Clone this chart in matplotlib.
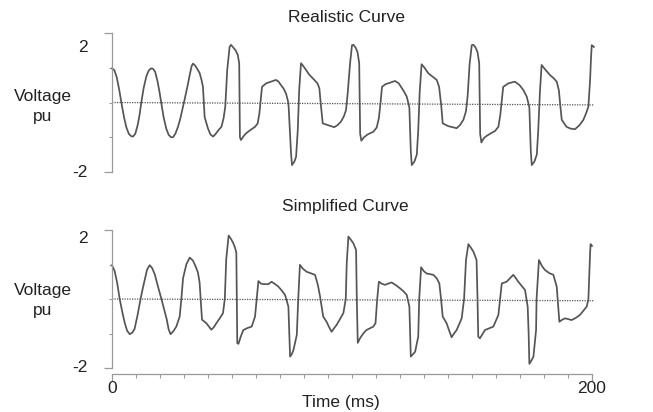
import matplotlib
matplotlib.use("Agg")
import matplotlib.pyplot as plt
import numpy as np

plt.rcParams["font.family"] = ["Liberation Sans", "DejaVu Sans"]

# realistic curve (t in ms, v in pu)
real_t = [0, 1, 2, 3, 3.9, 5, 6, 7, 8, 8.75,
          9.7, 10.7, 11.5, 12.2, 13.2, 14.3, 15.3, 16.2, 17.1, 18,
          19, 19.8, 20.5, 21.5, 22.6, 23.6, 24.6, 25.4, 26.4, 27.5,
          28.5, 29.5, 30.3, 31.4, 32.4, 33.2, 33.75, 34.8, 35.8, 36.5,
          37.3, 37.9, 38.6, 40, 41, 42.1, 43, 44.3, 45.6, 46.5,
          47.2, 48, 49, 49.6, 50.3, 51.5, 52.4, 53, 53.3, 53.75,
          54.7, 55.8, 57.9, 59.6, 60.7, 61.4, 62, 62.5, 64.2, 66.25,
          68.3, 69.4, 70.4, 71.5, 72.5, 73.3, 73.6, 74.6, 75, 76,
          76.7, 77.4, 78, 78.75, 79.7, 80.8, 82.2, 84.3, 85.6, 86.4,
          87.1, 87.8, 89.9, 92.6, 94, 95.4, 96.6, 97.5, 98.2, 99.2,
          100, 100.6, 101.5, 102.3, 103, 103.4, 103.9, 105, 106.5, 108.9,
          110.3, 111.2, 111.9, 112.5, 114, 115.5, 117.9, 119.5, 120.7, 121.8,
          122.8, 123.6, 123.9, 124.5, 124.9, 126, 127, 127.6, 128.2, 129,
          130, 131.8, 134, 135.3, 136.3, 137.2, 137.8, 140.1, 143.6, 145,
          146.4, 147.5, 148.2, 149, 149.9, 150.6, 151.5, 152.3, 153, 153.4,
          153.9, 155, 156.1, 158, 159.6, 161, 161.8, 162.4, 163, 165.1,
          167.9, 169.8, 171.4, 172.8, 173.6, 173.9, 174.5, 174.9, 176, 177,
          177.6, 178.3, 179, 180.5, 182.5, 184, 185.3, 186.2, 186.8, 187.4,
          189.4, 191, 192.9, 194.8, 196.4, 197.6, 198.5, 199.2, 199.6, 199.9, 200.8]
real_v = [0.98, 0.93, 0.72, 0.37, 0.0, -0.42, -0.72, -0.9, -0.97, -0.98,
          -0.9, -0.65, -0.35, 0.0, 0.42, 0.75, 0.92, 0.98, 0.97, 0.88,
          0.6, 0.3, 0.0, -0.42, -0.75, -0.93, -1.0, -1.0, -0.9, -0.7,
          -0.45, -0.15, 0.1, 0.45, 0.8, 1.05, 1.12, 1.05, 0.93, 0.85,
          0.65, 0.45, -0.42, -0.75, -0.92, -0.98, -0.92, -0.8, -0.7, -0.45,
          -0.12, 0.93, 1.6, 1.66, 1.6, 1.5, 1.37, 1.13, -1.0, -1.08,
          -0.98, -0.89, -0.78, -0.7, -0.6, -0.32, 0.1, 0.45, 0.55, 0.6,
          0.65, 0.6, 0.5, 0.4, 0.26, 0.05, -0.12, -1.46, -1.8, -1.7,
          -1.56, -0.8, 0.36, 1.13, 1.05, 0.94, 0.8, 0.65, 0.55, 0.41,
          -0.12, -0.6, -0.65, -0.71, -0.65, -0.55, -0.4, -0.22, 0.26, 1.13,
          1.65, 1.66, 1.58, 1.45, 1.13, -0.9, -1.1, -1.0, -0.92, -0.84,
          -0.72, -0.45, 0.0, 0.45, 0.53, 0.56, 0.62, 0.55, 0.42, 0.3,
          0.17, -0.05, -0.15, -1.4, -1.8, -1.7, -1.5, -0.8, 0.3, 1.1,
          1.02, 0.84, 0.72, 0.65, 0.45, -0.1, -0.6, -0.68, -0.74, -0.65,
          -0.5, -0.25, 0.2, 1.1, 1.65, 1.66, 1.58, 1.45, 1.13, -0.9,
          -1.15, -1.02, -0.96, -0.88, -0.82, -0.7, -0.35, 0.05, 0.45, 0.55,
          0.6, 0.5, 0.36, 0.17, -0.05, -0.15, -1.4, -1.8, -1.7, -1.5,
          -0.8, 0.3, 1.08, 0.95, 0.79, 0.7, 0.6, 0.35, -0.1, -0.5,
          -0.7, -0.75, -0.77, -0.65, -0.5, -0.3, -0.12, 0.65, 1.3, 1.65, 1.6]

# simplified curve
simp_t = [0, 1.1, 2.2, 3.2, 4.3, 5.3, 6.3, 7.4, 8.4, 9.4,
          10.7, 11.9, 12.8, 13.6, 14.6, 15.7, 16.7, 17.8, 19.2, 20.6,
          21.7, 22.8, 23.6, 24.4, 25.5, 26.8, 28.2, 28.9, 29.6, 31,
          32.4, 33.75, 34.8, 35.8, 36.5, 37.5, 39.3, 40.4, 41.4, 42.4,
          43.5, 45, 46.25, 47, 47.6, 48.6, 49.5, 50.4, 51.2, 51.8,
          52.2, 52.7, 53.6, 54.7, 56.5, 58.2, 59.6, 60.3, 61, 62,
          63, 65.1, 66.5, 68, 69.3, 70.8, 72.1, 73.5, 73.9, 74.2,
          74.9, 75.6, 77, 77.6, 78.3, 79.5, 81.1, 84.6, 85.8, 86.7,
          88, 89.4, 90.5, 91.5, 92.5, 93.6, 95, 96.4, 97.4, 97.8,
          98.5, 99.5, 100.6, 101.7, 102.0, 102.4, 103.5, 104.7, 106, 107.5,
          108.9, 109.8, 110.5, 111.2, 112.5, 113.8, 115.2, 116.5, 118.3, 120,
          121.5, 122.8, 123.9, 124.2, 124.5, 125.4, 126.3, 127.6, 128, 128.8,
          130, 131.1, 133.9, 135.3, 136.4, 137.1, 137.8, 139.4, 140.5, 141.5,
          142.5, 143.6, 145.7, 146.7, 147.5, 148.5, 149.6, 150.6, 151.9, 152.3,
          152.6, 153.3, 155.4, 158.9, 161, 161.7, 162.4, 164.4, 165.8, 167.2,
          168.3, 169.3, 170.7, 172.1, 173.2, 173.6, 173.9, 174.8, 175.6, 176.7,
          176.9, 177.9, 179.2, 180.4, 182.2, 183.9, 185.3, 186.4, 187.6, 188.8,
          191.5, 193.2, 195, 197.8, 198.5, 199.2, 199.4, 200]
simp_v = [0.98, 0.81, 0.45, 0.0, -0.38, -0.69, -0.92, -1.02, -0.98, -0.87,
          -0.45, 0.0, 0.3, 0.55, 0.85, 0.98, 0.9, 0.72, 0.35, 0.0,
          -0.3, -0.59, -0.88, -1.02, -0.94, -0.8, -0.51, 0.0, 0.6, 1.01,
          1.2, 1.11, 0.95, 0.77, 0.48, -0.6, -0.7, -0.8, -0.89, -0.82,
          -0.7, -0.55, -0.41, 0.0, 1.16, 1.84, 1.75, 1.64, 1.5, 1.35,
          -1.28, -1.3, -1.1, -0.9, -0.84, -0.8, -0.51, 0.0, 0.52, 0.45,
          0.43, 0.43, 0.5, 0.43, 0.36, 0.24, 0.12, -0.22, -1.0, -1.67,
          -1.6, -1.48, -1.04, 0.0, 0.99, 0.88, 0.79, 0.7, 0.4, 0.07,
          -0.51, -0.66, -0.82, -0.95, -0.85, -0.75, -0.58, -0.41, 0.0, 1.03,
          1.81, 1.72, 1.61, 1.42, 0.0, -1.27, -1.12, -1.0, -0.9, -0.85,
          -0.8, -0.7, 0.0, 0.5, 0.44, 0.41, 0.45, 0.48, 0.4, 0.31,
          0.22, 0.12, -0.22, -1.0, -1.67, -1.6, -1.53, -1.09, 0.0, 0.92,
          0.8, 0.74, 0.7, 0.6, 0.45, 0.0, -0.51, -0.7, -0.92, -1.11,
          -1.0, -0.9, -0.56, 0.0, 1.13, 1.59, 1.48, 1.37, 1.13, 0.0,
          -1.09, -1.14, -0.9, -0.8, -0.46, 0.0, 0.45, 0.5, 0.6, 0.7,
          0.6, 0.5, 0.38, 0.26, -0.22, -1.0, -1.88, -1.78, -1.67, -0.9,
          0.0, 1.13, 0.95, 0.84, 0.75, 0.7, 0.36, -0.66, -0.6, -0.56,
          -0.61, -0.55, -0.46, -0.22, 0.0, 1.32, 1.59, 1.54]

# dotted zero reference (slightly tilted in the scan)
base_t = [0, 201]
real_base = [0.0, -0.07]
simp_base = [0.0, -0.05]

panels = [
    ("Realistic Curve", real_t, real_v, real_base),
    ("Simplified Curve", simp_t, simp_v, simp_base),
]

LINE = "#555555"
AXIS = "#9a9a9a"
TEXT = "#222222"


def style_axes(ax, show_x):
    ax.set_xlim(0, 200)
    ax.set_ylim(-2, 2)
    for side in ("top", "right"):
        ax.spines[side].set_visible(False)
    ax.spines["left"].set_color(AXIS)
    ax.spines["left"].set_linewidth(0.9)
    ax.set_yticks([-2, 2])
    ax.set_yticks([-1, 0, 1], minor=True)
    ax.tick_params(axis="y", which="major", length=6, width=0.9, color=AXIS, labelleft=False)
    ax.tick_params(axis="y", which="minor", length=2, width=0.8, color=AXIS)
    if show_x:
        ax.spines["bottom"].set_position(("outward", 4))
        ax.spines["bottom"].set_color(AXIS)
        ax.spines["bottom"].set_linewidth(0.9)
        ax.set_xticks([0, 200])
        ax.set_xticklabels(["0", "200"])
        ax.set_xticks(np.arange(10, 200, 10), minor=True)
        ax.tick_params(axis="x", which="major", length=5, width=0.9, color=AXIS,
                       labelsize=12.5, labelcolor=TEXT, pad=0.5)
        ax.tick_params(axis="x", which="minor", length=3, width=0.8, color=AXIS)
    else:
        ax.spines["bottom"].set_visible(False)
        ax.set_xticks([])


fig = plt.figure(figsize=(6.53, 4.12), dpi=100)
W, H = 653, 412
boxes = [(112, 33, 172), (112, 230, 368)]

for i, ((title, t, v, base), (x0, ytop, ybot)) in enumerate(zip(panels, boxes)):
    ax = fig.add_axes([x0 / W, 1 - ybot / H, 480 / W, (ybot - ytop) / H])
    ax.plot(base_t, base, color="#555555", linewidth=0.9, linestyle=(0, (1, 1)),
            clip_on=False)
    ax.plot(t, v, color=LINE, linewidth=1.25, solid_joinstyle="round", clip_on=False)
    style_axes(ax, show_x=(i == 1))

# titles and y-axis labels placed as in the scan
fig.text(347 / W, 1 - 17 / H, "Realistic Curve", ha="center", va="center", fontsize=12.5, color=TEXT)
fig.text(345 / W, 1 - 206 / H, "Simplified Curve", ha="center", va="center", fontsize=12.5, color=TEXT)

for ylab, ypu, y2, ym2 in [(96, 117, 47, 172), (291, 310, 239, 367)]:
    fig.text(43 / W, 1 - ylab / H, "Voltage", ha="center", va="center", fontsize=12.5, color=TEXT)
    fig.text(43 / W, 1 - ypu / H, "pu", ha="center", va="center", fontsize=12.5, color=TEXT)
    fig.text(88 / W, 1 - y2 / H, "2", ha="right", va="center", fontsize=12.5, color=TEXT)
    fig.text(88 / W, 1 - ym2 / H, "-2", ha="right", va="center", fontsize=12.5, color=TEXT)

fig.text(341 / W, 1 - 403 / H, "Time (ms)", ha="center", va="center", fontsize=12.5, color=TEXT)

fig.savefig("out.png", dpi=100)
